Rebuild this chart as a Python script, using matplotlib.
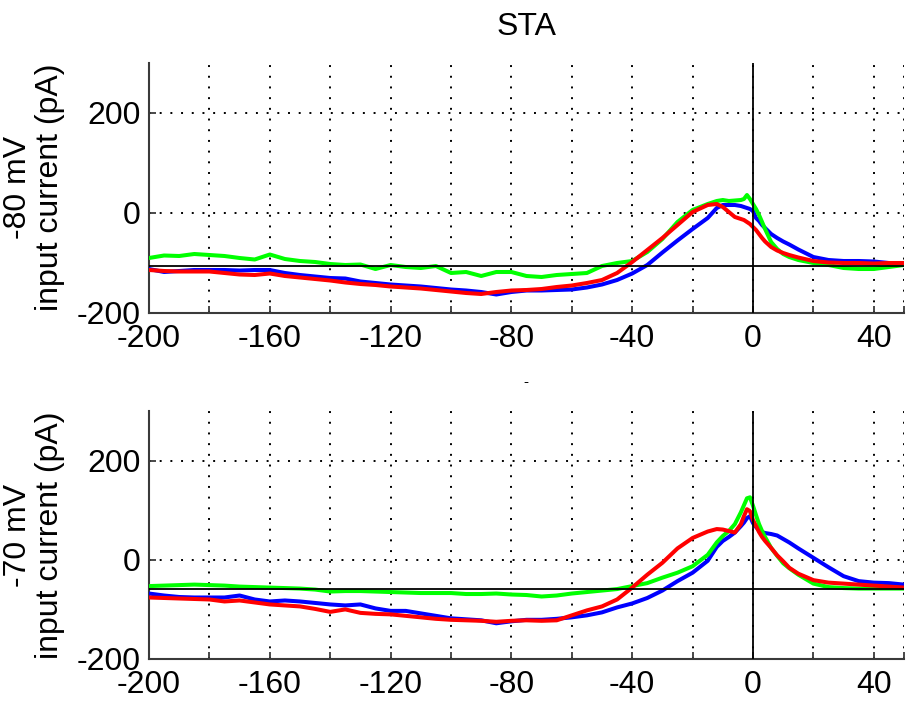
import matplotlib
matplotlib.use("Agg")
import matplotlib.pyplot as plt

plt.rcParams['font.family'] = ['Liberation Sans', 'DejaVu Sans']

# time relative to spike (ms)
t_ms = [-200, -195, -190, -185, -180, -175, -170, -165, -160, -155,
        -150, -145, -140, -135, -130, -125, -120, -115, -110, -105,
        -100, -95, -90, -85, -80, -75, -70, -65, -60, -55,
        -50, -45, -40, -35, -30, -25, -20, -15,
        -12, -10, -8, -6, -4, -3, -2, -1, 0, 1, 2, 3, 4, 6, 8, 10, 12,
        15, 20, 25, 30, 35, 40, 45, 50]

# holding potential -80 mV: spike-triggered average input current (pA)
blue_80 = [-112, -118, -116, -114, -114, -114, -115, -114, -114, -120,
           -124, -127, -130, -131, -137, -140, -143, -145, -147, -150,
           -153, -155, -158, -163, -158, -155, -155, -154, -153, -149,
           -143, -134, -121, -104, -79, -55, -32, -10,
           10, 16, 16, 16, 14, 12, 10, 8, 4, -10, -16, -24, -30, -42, -50, -57, -63,
           -73, -88, -94, -96, -96, -97, -100, -102]
green_80 = [-90, -85, -86, -82, -84, -86, -90, -93, -83, -92,
            -96, -98, -102, -104, -103, -112, -104, -108, -110, -106,
            -120, -118, -126, -118, -118, -126, -128, -124, -122, -120,
            -106, -100, -96, -78, -52, -18, 6, 18,
            24, 26, 24, 25, 26, 28, 36, 28, 18, 8, -4, -18, -32, -58, -72, -82, -88,
            -94, -100, -104, -110, -112, -112, -108, -104]
red_80 = [-114, -116, -117, -117, -117, -120, -123, -124, -121, -126,
          -129, -132, -135, -139, -142, -144, -147, -149, -151, -154,
          -157, -160, -162, -158, -155, -154, -152, -148, -145, -140,
          -134, -120, -98, -74, -50, -24, 2, 16,
          18, 12, 2, -8, -12, -14, -18, -22, -28, -34, -42, -50, -57, -68, -75, -80, -84,
          -89, -96, -99, -100, -100, -101, -100, -100]

# holding potential -70 mV
blue_70 = [-68, -72, -75, -76, -76, -76, -72, -80, -84, -82,
           -84, -87, -90, -92, -90, -98, -103, -103, -108, -113,
           -118, -120, -122, -128, -124, -121, -121, -119, -116, -112,
           -106, -96, -88, -77, -62, -43, -26, -2,
           26, 38, 46, 55, 68, 75, 84, 88, 74, 66, 60, 56, 54, 52, 49, 42, 35,
           23, 4, -15, -33, -43, -46, -47, -50]
green_70 = [-53, -52, -51, -50, -51, -52, -54, -55, -56, -57,
            -58, -60, -64, -63, -63, -64, -65, -66, -67, -67,
            -67, -69, -69, -68, -70, -71, -74, -72, -68, -65,
            -62, -59, -53, -47, -36, -26, -13, 10,
            35, 48, 58, 72, 96, 110, 124, 126, 109, 90, 72, 58, 46, 24, 8, -7, -17,
            -30, -48, -55, -57, -58, -58, -58, -58]
red_70 = [-76, -77, -78, -79, -80, -84, -82, -86, -90, -92,
          -94, -99, -105, -100, -107, -109, -110, -113, -116, -119,
          -121, -122, -123, -125, -123, -122, -123, -122, -112, -102,
          -94, -80, -56, -30, -6, 23, 44, 57,
          62, 61, 58, 55, 72, 88, 102, 98, 80, 68, 56, 46, 38, 24, 9, -3, -16,
          -28, -41, -46, -48, -50, -52, -54, -56]

baseline_80 = -105
baseline_70 = -58

panel_labels = ['-80 mV\ninput current (pA)', '-70 mV\ninput current (pA)']
x_ticks = [-200, -180, -160, -140, -120, -100, -80, -60, -40, -20, 0, 20, 40, 50]
x_tick_labels = ['-200', '', '-160', '', '-120', '', '-80', '', '-40', '', '0', '', '40', '']
y_ticks = [-200, 0, 200]

FS = 23
W, H = 910, 702
fig = plt.figure(figsize=(W / 100, H / 100), dpi=100)

panels = [
    (fig.add_axes([149 / W, 1 - 313 / H, 755 / W, 250 / H]), blue_80, green_80, red_80, baseline_80),
    (fig.add_axes([149 / W, 1 - 659 / H, 755 / W, 248 / H]), blue_70, green_70, red_70, baseline_70),
]

for ax, b, g, r, base in panels:
    ax.plot(t_ms, b, color=(0, 0, 1), lw=2.9, zorder=3, solid_joinstyle='round')
    ax.plot(t_ms, g, color=(0, 1, 0), lw=2.9, zorder=3.1, solid_joinstyle='round')
    ax.plot(t_ms, r, color=(1, 0, 0), lw=2.9, zorder=3.2, solid_joinstyle='round')
    ax.axhline(base, color='black', lw=1.3, zorder=4)
    ax.axvline(0, color='black', lw=1.3, zorder=4)

    ax.set_xlim(-200, 50)
    ax.set_ylim(-200, 300)
    ax.set_xticks(x_ticks)
    ax.set_xticklabels(x_tick_labels)
    ax.set_yticks(y_ticks)
    ax.set_yticklabels([str(v) for v in y_ticks])
    ax.grid(True, color='black', lw=1.4, linestyle=(0, (1, 4.5)))
    ax.set_axisbelow(True)
    for side in ('top', 'right'):
        ax.spines[side].set_visible(False)
    for side in ('left', 'bottom'):
        ax.spines[side].set_color('#3a3a3a')
        ax.spines[side].set_linewidth(1.5)
    ax.tick_params(axis='both', direction='in', length=5, width=1.3,
                   color='#3a3a3a', labelsize=FS, labelcolor='black')
    ax.tick_params(axis='x', pad=8)
    ax.tick_params(axis='y', pad=6)

fig.text(34 / W, 1 - 187 / H, panel_labels[0], rotation=90, ha='center', va='center',
         multialignment='center', fontsize=FS, linespacing=1.1)
fig.text(34 / W, 1 - 535 / H, panel_labels[1], rotation=90, ha='center', va='center',
         multialignment='center', fontsize=FS, linespacing=1.1)

fig.text(527 / W, 1 - 27 / H, 'STA', ha='center', va='center', fontsize=FS)
fig.text(526 / W, 1 - 386.5 / H, '-', ha='center', va='baseline', fontsize=11)

fig.savefig('out.png', dpi=100)
